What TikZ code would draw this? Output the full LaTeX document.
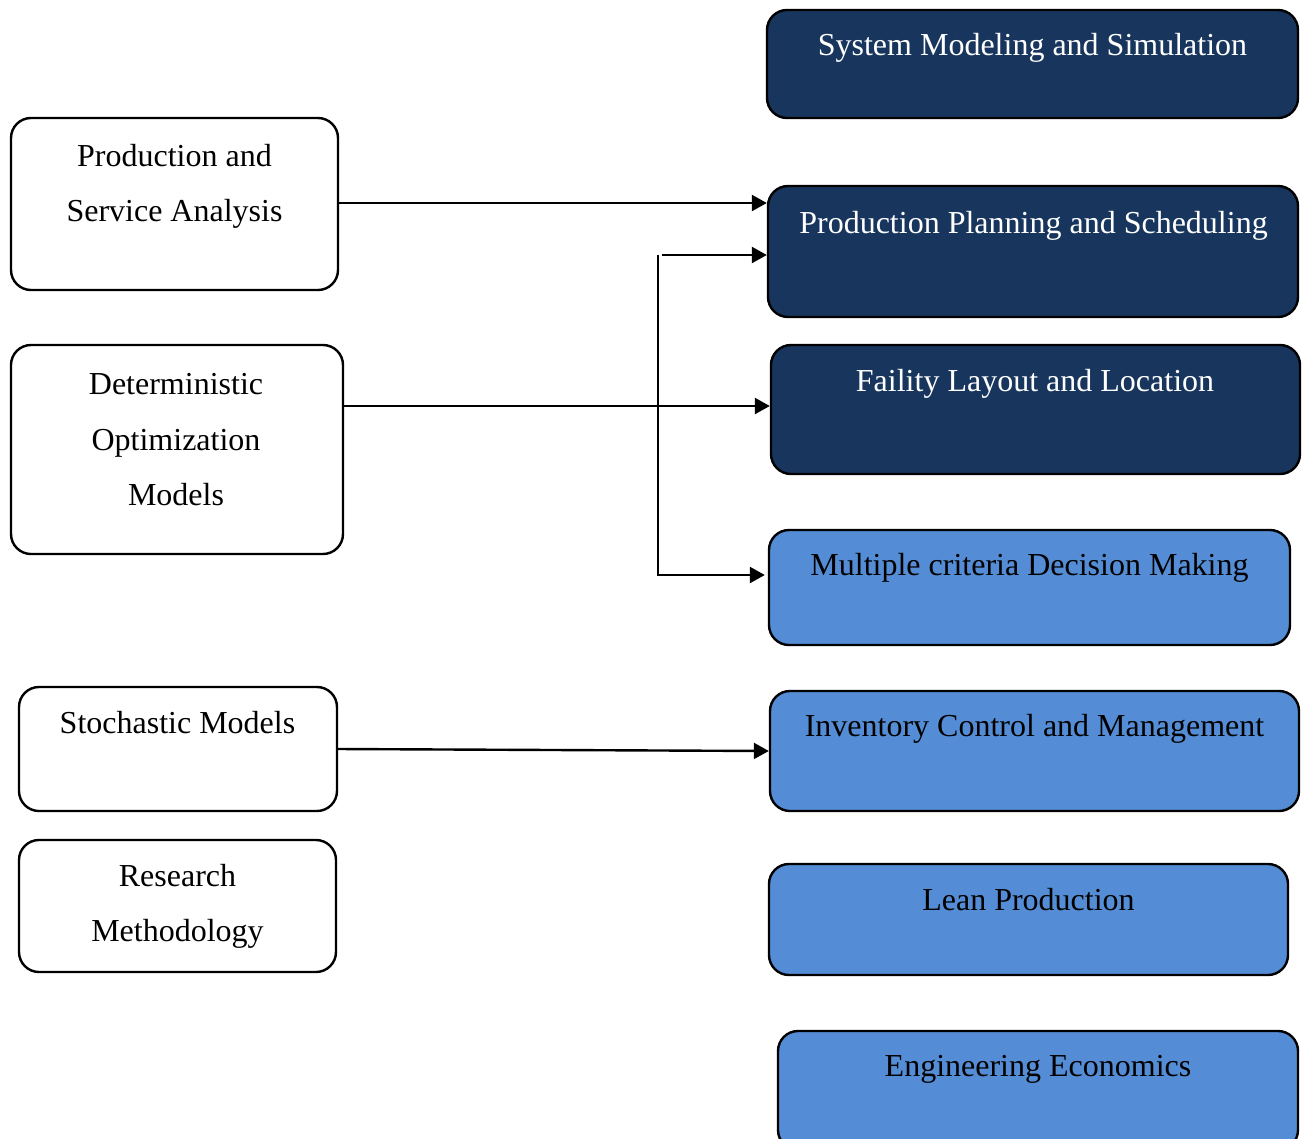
\documentclass[tikz,border=0pt]{standalone}
\usepackage{fontspec}
\setmainfont{Liberation Serif}
\usetikzlibrary{arrows.meta}
\definecolor{navy}{RGB}{24,54,93}
\definecolor{lblue}{RGB}{84,141,213}
\tikzset{
  box/.style={draw=black, line width=2.4pt, rounded corners=20pt, inner sep=0pt},
  darkbox/.style={box, fill=navy},
  lightbox/.style={box, fill=lblue},
  whitebox/.style={box, fill=white},
  txt/.style={anchor=base, inner sep=0pt, font=\fontsize{32}{55}\selectfont},
  wtxt/.style={txt, text=white},
  arr/.style={line width=2.4pt, -{Triangle[length=15pt,width=16pt]}},
  ln/.style={line width=2.4pt}
}
\begin{document}
\begin{tikzpicture}[x=1pt,y=-1pt]
\useasboundingbox (0,0) rectangle (1303,1138);
% right boxes
\node[darkbox, minimum width=531pt, minimum height=108pt] (sms) at (1032.5,64) {};
\node[wtxt] (smst) at (1032.5,55) {System Modeling and Simulation};
\node[darkbox, minimum width=530pt, minimum height=131pt] (pps) at (1033,251.5) {};
\node[wtxt] (ppst) at (1033.5,233) {Production Planning and Scheduling};
\node[darkbox, minimum width=529pt, minimum height=129pt] (fll) at (1035.5,409.5) {};
\node[wtxt] (fllt) at (1035,391) {Faility Layout and Location};
\node[lightbox, minimum width=521pt, minimum height=115pt] (mcdm) at (1029.5,587.5) {};
\node[txt] (mcdmt) at (1029.5,575) {Multiple criteria Decision Making};
\node[lightbox, minimum width=529pt, minimum height=120pt] (icm) at (1034.5,751) {};
\node[txt] (icmt) at (1034.5,736) {Inventory Control and Management};
\node[lightbox, minimum width=519pt, minimum height=111pt] (lp) at (1028.5,919.5) {};
\node[txt] (lpt) at (1028.5,910) {Lean Production};
\node[lightbox, minimum width=520pt, minimum height=119pt] (ee) at (1038,1090.5) {};
\node[txt] (eet) at (1038,1076) {Engineering Economics};
% left boxes
\node[whitebox, minimum width=327pt, minimum height=172pt] (psa) at (174.5,204) {};
\node[txt] (psat1) at (174.5,166) {Production and};
\node[txt] (psat2) at (174.5,221) {Service Analysis};
\node[whitebox, minimum width=332pt, minimum height=209pt] (dom) at (177,449.5) {};
\node[txt] (domt1) at (176,394) {Deterministic};
\node[txt] (domt2) at (176,450) {Optimization};
\node[txt] (domt3) at (176,505) {Models};
\node[whitebox, minimum width=318pt, minimum height=124pt] (sm) at (178,749) {};
\node[txt] (smt) at (177.5,733) {Stochastic Models};
\node[whitebox, minimum width=317pt, minimum height=132pt] (rm) at (177.5,906) {};
\node[txt] (rmt1) at (177.5,886) {Research};
\node[txt] (rmt2) at (177.5,941) {Methodology};
% connectors
\draw[arr] ([yshift=1pt]psa.east) -- ([yshift=1pt]psa.east -| pps.west);
\draw[arr] ([yshift=3.5pt]dom.east |- fll.west) -- ([yshift=3.5pt]fll.west);
\draw[arr] (sm.east) -- (icm.west);
\coordinate (j1) at (658,255);
\coordinate (j2) at (658,575);
\draw[ln] (j1) -- (j2);
\draw[arr] ([xshift=4pt]j1) -- (j1 -| pps.west);
\draw[arr] ([xshift=-1pt]j2) -- ([xshift=-3pt]j2 -| mcdm.west);
\end{tikzpicture}
\end{document}
